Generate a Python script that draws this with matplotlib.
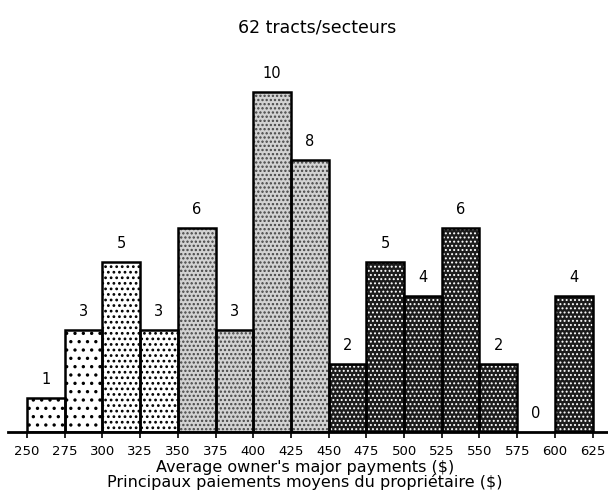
import matplotlib
matplotlib.use('Agg')
import matplotlib.pyplot as plt

# bins of average owner's major payments ($), width 25
bin_left = [250, 275, 300, 325, 350, 375, 400, 425, 450, 475, 500, 525, 550, 575, 600]
counts = [1, 3, 5, 3, 6, 3, 10, 8, 2, 5, 4, 6, 2, 0, 4]
tick_values = [250, 275, 300, 325, 350, 375, 400, 425, 450, 475, 500, 525, 550, 575, 600, 625]
# shading group per bin: 0 sparse dots, 1 denser dots, 2 grey, 3 dark
shade = [0, 0, 1, 1, 2, 2, 2, 2, 3, 3, 3, 3, 3, 3, 3]

face = {0: 'white', 1: 'white', 2: '#d2d2d2', 3: '#1c1c1c'}
hatch = {0: '..', 1: '...', 2: '....', 3: '....'}
hcol = {0: 'black', 1: 'black', 2: '#444444', 3: 'white'}
hlw = {0: 1.2, 1: 1.2, 2: 1.1, 3: 0.9}

plt.rcParams['font.family'] = ['DejaVu Sans']

fig = plt.figure(figsize=(6.08, 5.02), dpi=100)
ax = fig.add_axes([8 / 608, (502 - 433) / 502, 600 / 608, 391 / 502])

for x, c, s in zip(bin_left, counts, shade):
    if c > 0:
        ax.bar(x, c, width=25, align='edge', color=face[s], edgecolor='none', zorder=2)
        with plt.rc_context({'hatch.linewidth': hlw[s]}):
            ax.bar(x, c, width=25, align='edge', color='none', edgecolor=hcol[s],
                   hatch=hatch[s], linewidth=0, zorder=3)
        ax.bar(x, c, width=25, align='edge', color='none', edgecolor='black',
               linewidth=1.8, zorder=4)
    ax.text(x + 12.5, c + 0.58, str(c), ha='center', va='center', fontsize=10.5)

ax.set_xlim(237.4, 635.2)
ax.set_ylim(0, 11.5)
for side in ['top', 'right', 'left']:
    ax.spines[side].set_visible(False)
ax.spines['bottom'].set_linewidth(2)
ax.spines['bottom'].set_zorder(5)
ax.set_yticks([])
ax.set_xticks(tick_values)
ax.set_xticklabels([str(v) for v in tick_values], fontsize=9.5)
ax.tick_params(axis='x', length=4, width=1.2, pad=5)

fig.text(317 / 608, 1 - 28 / 502, '62 tracts/secteurs', ha='center', va='center', fontsize=12.5)
fig.text(305 / 608, 1 - 468 / 502, "Average owner's major payments ($)", ha='center', va='center', fontsize=11.5)
fig.text(305 / 608, 1 - 482 / 502, "Principaux paiements moyens du propriétaire ($)", ha='center', va='center', fontsize=11.5)

fig.savefig('out.png', dpi=100)
